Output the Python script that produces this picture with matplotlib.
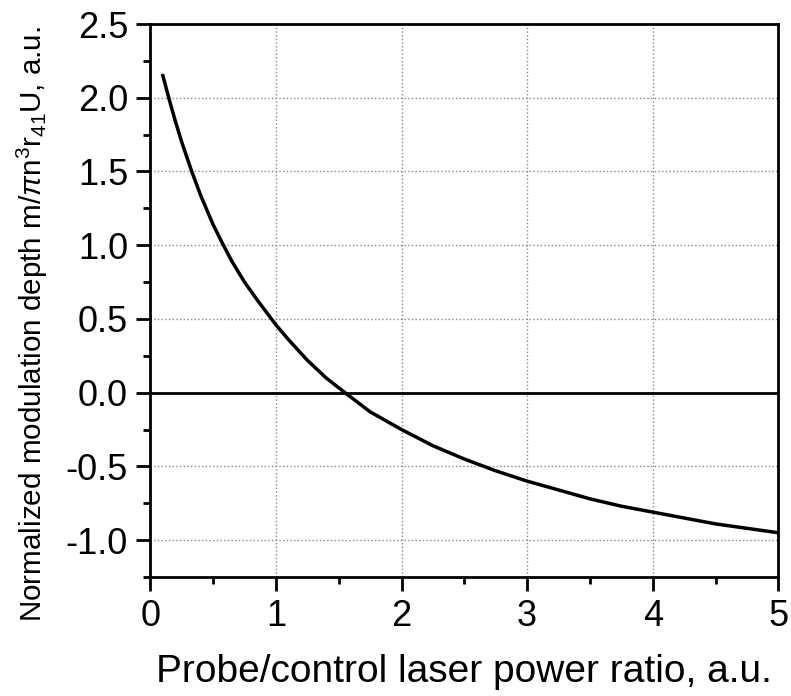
import matplotlib.pyplot as plt

plt.rcParams['font.family'] = ['Liberation Sans', 'DejaVu Sans']
plt.rcParams['mathtext.fontset'] = 'custom'
plt.rcParams['mathtext.rm'] = 'Liberation Sans'
plt.rcParams['mathtext.it'] = 'Liberation Sans:italic'

# values
ratio = [0.1, 0.15, 0.2, 0.25, 0.33, 0.4, 0.45, 0.5, 0.57, 0.65, 0.75, 0.85,
         1.0, 1.1, 1.25, 1.4, 1.55, 1.65, 1.75, 1.875, 2.0, 2.25, 2.5, 2.75, 3.0, 3.25,
         3.5, 3.75, 4.0, 4.25, 4.5, 4.75, 5.0]
depth = [2.15, 1.99, 1.84, 1.70, 1.50, 1.34, 1.24, 1.14, 1.02, 0.89, 0.75, 0.63,
         0.46, 0.36, 0.22, 0.10, 0.0, -0.065, -0.13, -0.19, -0.25, -0.36, -0.45, -0.53,
         -0.60, -0.66, -0.72, -0.77, -0.81, -0.85, -0.89, -0.92, -0.95]

x_ticks = [0, 1, 2, 3, 4, 5]
y_ticks = [-1.0, -0.5, 0.0, 0.5, 1.0, 1.5, 2.0, 2.5]

fig = plt.figure(figsize=(7.91, 6.96), dpi=100)
ax = fig.add_axes([0.190, 0.171, 0.794, 0.7945])

ax.plot(ratio, depth, color='black', lw=2.5, zorder=3)
ax.axhline(0, color='black', lw=2, zorder=2)

ax.set_xlim(0, 5)
ax.set_ylim(-1.25, 2.5)
ax.set_xticks(x_ticks)
ax.set_xticks([0.5, 1.5, 2.5, 3.5, 4.5], minor=True)
ax.set_yticks(y_ticks)
ax.set_yticklabels([f'{v:.1f}' for v in y_ticks])
ax.set_yticks([-1.25, -0.75, -0.25, 0.25, 0.75, 1.25, 1.75, 2.25], minor=True)

ax.grid(True, which='major', linestyle=':', color='#888888', lw=1)
for s in ax.spines.values():
    s.set_linewidth(2)
ax.tick_params(which='major', direction='out', length=10, width=2, labelsize=26, pad=6)
ax.tick_params(which='minor', direction='out', length=5, width=2)

ax.set_xlabel('Probe/control laser power ratio, a.u.', fontsize=28)
ax.xaxis.set_label_coords(0.5, -0.14)
ax.set_ylabel(r'Normalized modulation depth m/$\pi$n$^3$r$_{41}$U, a.u.', fontsize=21.3)
ax.yaxis.set_label_coords(-0.16, 0.457)

plt.savefig('out.png', dpi=100)
